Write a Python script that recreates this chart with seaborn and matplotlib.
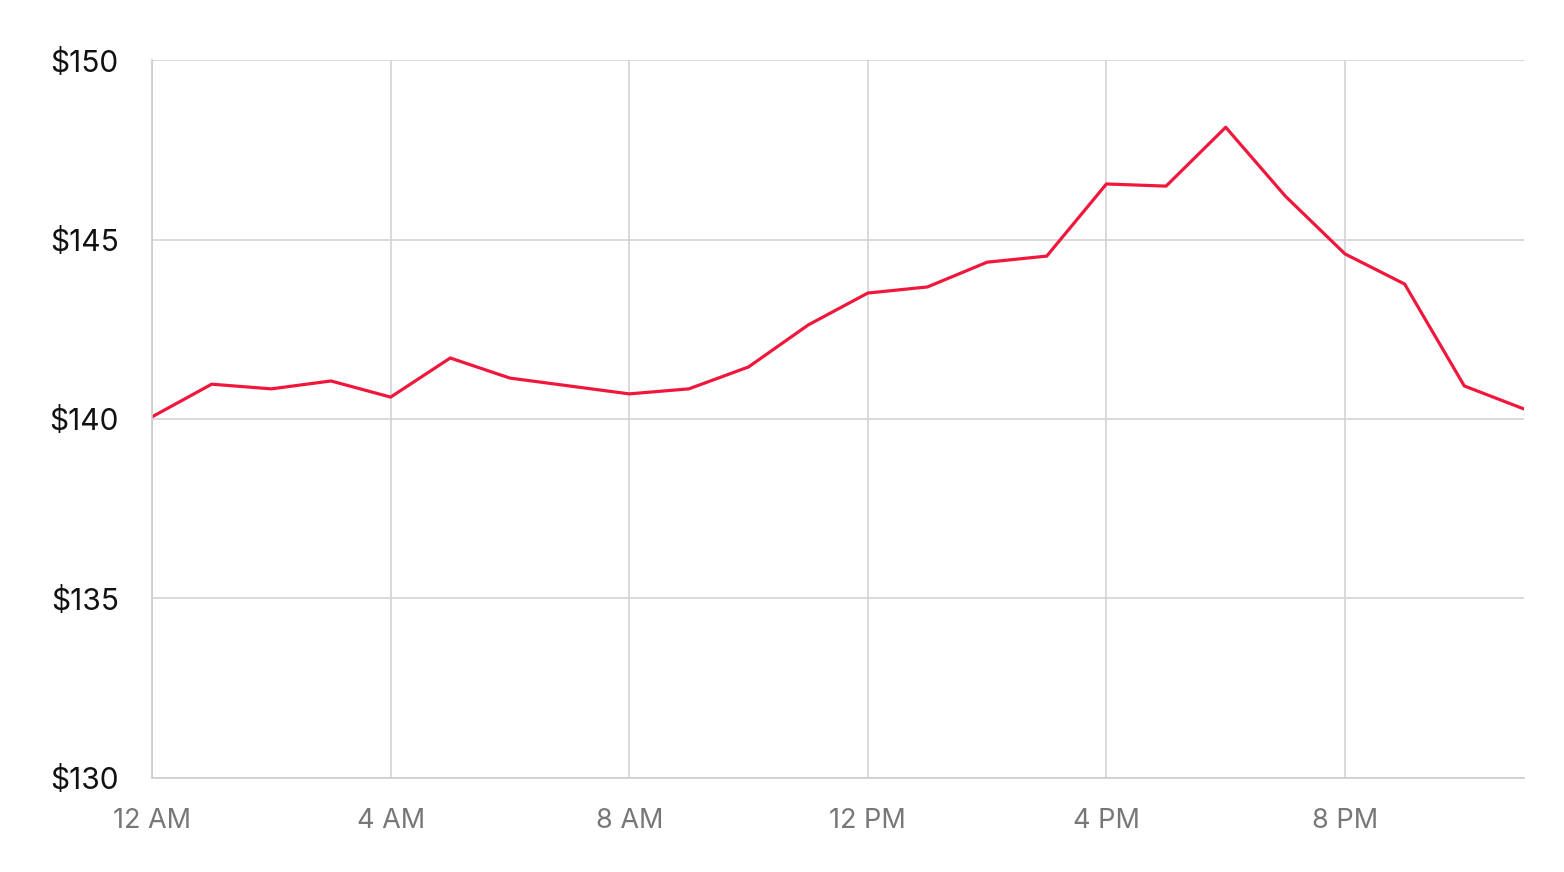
import numpy as np
import pandas as pd
import seaborn as sns
import matplotlib.pyplot as plt

hours = list(range(24))
prices = [140.06, 140.97, 140.84, 141.06, 140.61, 141.70, 141.14, 140.92,
          140.70, 140.84, 141.45, 142.62, 143.51, 143.68, 144.37, 144.54,
          146.55, 146.49, 148.13, 146.21, 144.60, 143.76, 140.92, 140.28]
x_ticks = [0, 4, 8, 12, 16, 20]
x_labels = ["12 AM", "4 AM", "8 AM", "12 PM", "4 PM", "8 PM"]
y_ticks = [130, 135, 140, 145, 150]

df = pd.DataFrame({"hour": hours, "price": prices})

sns.set_style("white")
plt.rcParams["font.family"] = ["Inter", "DejaVu Sans"]

fig = plt.figure(figsize=(15.64, 8.72), dpi=100)
ax = fig.add_axes([0.0972, 0.108, 0.9744 - 0.0972, 0.931 - 0.108])

sns.lineplot(data=df, x="hour", y="price", color="#f0173c", linewidth=2.3, ax=ax)

ax.set_xlim(0, 23)
ax.set_ylim(130, 150)
ax.set_xticks(x_ticks)
ax.set_xticklabels(x_labels)
ax.set_yticks(y_ticks)
ax.set_yticklabels([f"${v}" for v in y_ticks])
ax.grid(True, color="#d3d3d3", linewidth=1.2)
ax.tick_params(axis="y", length=0, pad=24, labelsize=21.5, labelcolor="#111111")
ax.tick_params(axis="x", length=0, pad=22, labelsize=19.5, labelcolor="#777777")
for s in ["top", "right"]:
    ax.spines[s].set_visible(False)
for s in ["left", "bottom"]:
    ax.spines[s].set_color("#cccccc")
    ax.spines[s].set_linewidth(1.2)
ax.set_xlabel("")
ax.set_ylabel("")

fig.savefig("out.png", dpi=100)
